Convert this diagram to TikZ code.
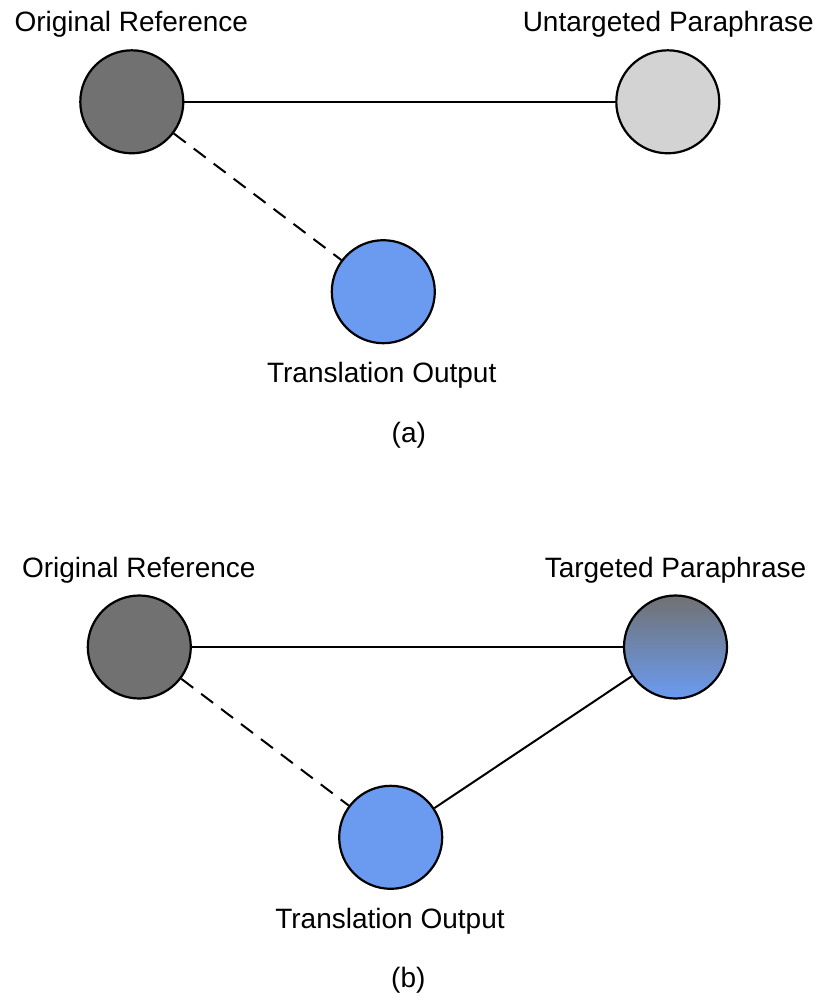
\documentclass[tikz,border=0pt]{standalone}
\usepackage{fontspec}
\setmainfont{Liberation Sans}
\definecolor{darkfill}{HTML}{717171}
\definecolor{lightfill}{HTML}{D3D3D3}
\definecolor{bluefill}{HTML}{6A9BF1}
\begin{document}
\begin{tikzpicture}[x=1pt,y=-1pt,
  dot/.style={circle,draw=black,line width=2.2pt,minimum size=103pt,inner sep=0pt},
  lbl/.style={anchor=base,font=\fontsize{28}{32}\selectfont,inner sep=0pt},
  link/.style={line width=2pt},
  dlink/.style={line width=2pt,dash pattern=on 15pt off 10pt}]
\useasboundingbox (0,0) rectangle (818,1005);
% panel (a)
\node[dot,fill=darkfill] (ora) at (131.8,101.8) {};
\node[dot,fill=lightfill] (upa) at (667.8,101.8) {};
\node[dot,fill=bluefill] (toa) at (383.3,291.7) {};
\node[lbl] (lora) at (131.3,31) {Original Reference};
\node[lbl] (lupa) at (668.3,31) {Untargeted Paraphrase};
\node[lbl] (ltoa) at (381.7,382) {Translation Output};
\node[lbl] (capa) at (408.8,442) {(a)};
\draw[link] (ora) -- (upa);
\draw[dlink] (ora) -- (toa);
% panel (b)
\node[dot,fill=darkfill] (orb) at (139.3,647) {};
\node[dot,top color=darkfill,bottom color=bluefill,draw=black] (tpb) at (675.5,647) {};
\node[dot,fill=bluefill] (tob) at (390.7,837.3) {};
\node[lbl] (lorb) at (138.8,577) {Original Reference};
\node[lbl] (ltpb) at (675.5,577) {Targeted Paraphrase};
\node[lbl] (ltob) at (390,928) {Translation Output};
\node[lbl] (capb) at (408.3,987) {(b)};
\draw[link] (orb) -- (tpb);
\draw[dlink] (orb) -- (tob);
\draw[link] (tob) -- (tpb);
\end{tikzpicture}
\end{document}
